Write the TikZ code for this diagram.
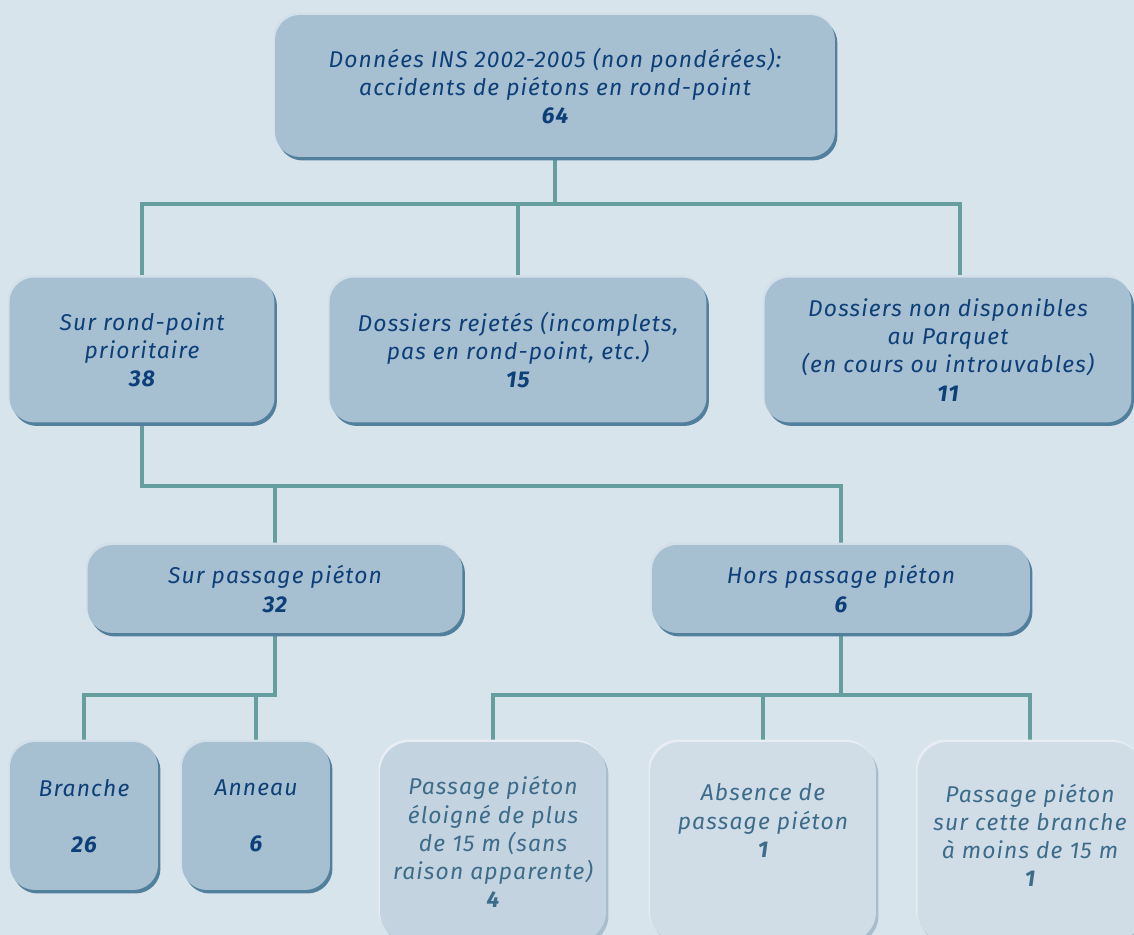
\documentclass[tikz,border=0pt]{standalone}
\usepackage{fontspec}
\setmainfont{Fira Sans}[LetterSpace=5]
\usetikzlibrary{shadows,backgrounds}
\definecolor{bgcol}{HTML}{D8E4EC}
\definecolor{boxcol}{HTML}{A6BFD1}
\definecolor{rimcol}{HTML}{52809C}
\definecolor{paleboxcol}{HTML}{C3D3E0}
\definecolor{faintboxcol}{HTML}{D0DDE7}
\definecolor{palerimcol}{HTML}{A9BECD}
\definecolor{textcol}{HTML}{0D3F78}
\definecolor{paletextcol}{HTML}{3D6C8A}
\definecolor{linkcol}{HTML}{669E9F}
\tikzset{
  boxfont/.style={font=\fontsize{13}{16}\selectfont\itshape},
  basebox/.style={rounded corners=0.5cm, align=center, inner sep=0pt, boxfont},
  box/.style={basebox, fill=boxcol, text=textcol,
    drop shadow={shadow xshift=0.05cm, shadow yshift=-0.07cm, fill=rimcol, opacity=1},
    preaction={fill=white!50!boxcol, transform canvas={xshift=-0.03cm, yshift=0.05cm}}},
  palebox/.style={basebox, rounded corners=0.6cm, fill=paleboxcol, text=paletextcol,
    drop shadow={shadow xshift=0.05cm, shadow yshift=-0.07cm, fill=palerimcol, opacity=1},
    preaction={fill=white!60!paleboxcol, transform canvas={xshift=-0.03cm, yshift=0.05cm}}},
  toptext/.style={anchor=north, yshift=-0.72cm, align=center, boxfont, text=paletextcol},
  link/.style={draw=linkcol, line width=2.8pt}
}
\begin{document}
\begin{tikzpicture}[x=0.02cm, y=-0.02cm]
  \useasboundingbox (0,0) rectangle (1134,935);
  % first level
  \node[box, minimum width=11.2cm, minimum height=2.84cm] (top) at (555,86)
    {Données INS 2002-2005 (non pondérées):\\accidents de piétons en rond-point\\\textbf{64}};
  % second level
  \node[box, minimum width=5.3cm, minimum height=2.9cm] (round) at (142,350)
    {Sur rond-point\\prioritaire\\\textbf{38}};
  \node[box, minimum width=7.54cm, minimum height=2.9cm] (rejected) at (518,350)
    {Dossiers rejetés (incomplets,\\pas en rond-point, etc.)\\\textbf{15}};
  \node[box, minimum width=7.34cm, minimum height=2.9cm] (missing) at (948,350)
    {Dossiers non disponibles\\au Parquet\\(en cours ou introuvables)\\\textbf{11}};
  % third level
  \node[box, minimum width=7.5cm, minimum height=1.76cm] (onxing) at (275,589)
    {Sur passage piéton\\\textbf{32}};
  \node[box, minimum width=7.56cm, minimum height=1.76cm] (offxing) at (841,589)
    {Hors passage piéton\\\textbf{6}};
  % fourth level
  \node[box, minimum width=2.96cm, minimum height=2.96cm] (branch) at (84,816)
    {Branche\\[16pt]\textbf{26}};
  \node[box, minimum width=2.96cm, minimum height=2.96cm] (ring) at (256,816)
    {Anneau\\[16pt]\textbf{6}};
  \node[palebox, minimum width=4.52cm, minimum height=4cm] (far) at (493,842)
    {Passage piéton\\éloigné de plus\\de 15 m (sans\\raison apparente)\\\textbf{4}};
  \node[palebox, fill=faintboxcol, minimum width=4.52cm, minimum height=4cm,
    label={[toptext]north:{Absence de\\passage piéton\\\textbf{1}}}] (none) at (763,842) {};
  \node[palebox, fill=faintboxcol, minimum width=4.5cm, minimum height=4cm,
    label={[toptext]north:{Passage piéton\\sur cette branche\\à moins de 15 m\\\textbf{1}}}] (near) at (1030,842) {};
  % connectors
  \begin{scope}[on background layer]
    \fill[bgcol] (0,0) rectangle (1134,935);
    \coordinate (lvlA) at (0,204);
    \coordinate (lvlB) at (0,486);
    \coordinate (lvlC) at (0,695);
    \begin{scope}[link]
      \draw (top.south) -- (top.south |- lvlA) -| (round.north);
      \draw (top.south |- lvlA) -| (rejected.north);
      \draw (top.south |- lvlA) -| ([xshift=0.24cm]missing.north);
      \draw (round.south) -- (round.south |- lvlB) -| (onxing.north);
      \draw (round.south |- lvlB) -| (offxing.north);
      \draw (onxing.south) -- (onxing.south |- lvlC) -| (branch.north);
      \draw (onxing.south |- lvlC) -| (ring.north);
      \draw (offxing.south) -- (offxing.south |- lvlC) -| (far.north);
      \draw (offxing.south |- lvlC) -| (none.north);
      \draw (offxing.south |- lvlC) -| (near.north);
    \end{scope}
  \end{scope}
\end{tikzpicture}
\end{document}
